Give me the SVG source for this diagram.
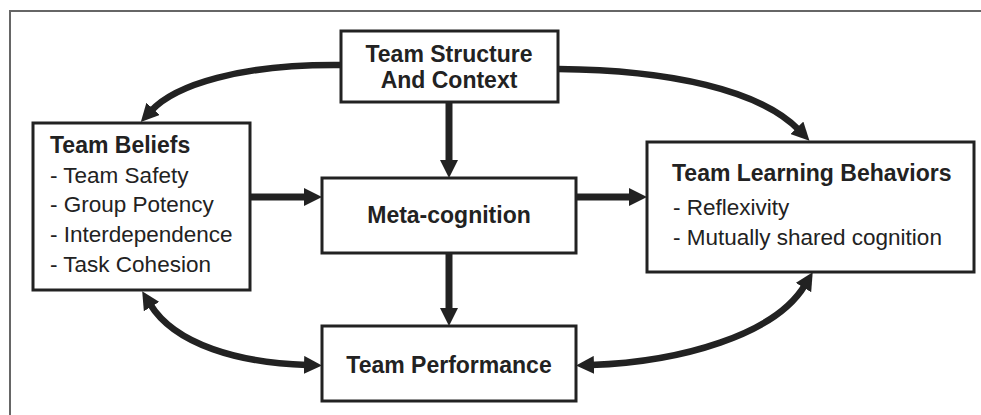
<svg xmlns="http://www.w3.org/2000/svg" width="981" height="415" viewBox="0 0 981 415">
<style>
.box{fill:#fff;stroke:#222;stroke-width:3}
.t{font-family:"Liberation Sans",Arial,sans-serif;fill:#222}
.b{font-weight:bold;font-size:23px}
.r{font-size:22.5px}
.c{text-anchor:middle}
.ln{fill:none;stroke:#222;stroke-width:7}
.cv{fill:none;stroke:#222;stroke-width:6.5}
.frame{fill:none;stroke:#666;stroke-width:2}
</style>
<defs>
<marker id="ah" viewBox="0 0 18 18" markerWidth="18" markerHeight="18" markerUnits="userSpaceOnUse" refX="3" refY="9" orient="auto-start-reverse">
<path d="M0,0 L18,9 L0,18 z" fill="#222"/>
</marker>
</defs>
<rect width="981" height="415" fill="#fff"/>
<path class="frame" d="M10,415 L10,11 L981,11"/>
<g id="connectors">
<path class="ln" d="M449,102 L449,163" marker-end="url(#ah)"/>
<path class="ln" d="M250,197 L307,197" marker-end="url(#ah)"/>
<path class="ln" d="M576,197 L632,197" marker-end="url(#ah)"/>
<path class="ln" d="M449,253 L449,311" marker-end="url(#ah)"/>
<path class="cv" d="M341,65 C240,64 175,85 151,111" marker-end="url(#ah)"/>
<path class="cv" d="M558,69 C670,70 760,90 799,130" marker-end="url(#ah)"/>
<path class="cv" d="M150,304 C175,345 240,363 307,365" marker-start="url(#ah)" marker-end="url(#ah)"/>
<path class="cv" d="M591,365 C680,362 775,335 805,285" marker-start="url(#ah)" marker-end="url(#ah)"/>
</g>
<g id="structure">
<rect class="box" x="341" y="31" width="217" height="71"/>
<text class="t b c" x="449" y="62">Team Structure</text>
<text class="t b c" x="449" y="88">And Context</text>
</g>
<g id="beliefs">
<rect class="box" x="33" y="123" width="217" height="167"/>
<text class="t b" x="50" y="153">Team Beliefs</text>
<text class="t r" x="50" y="183">- Team Safety</text>
<text class="t r" x="50" y="212">- Group Potency</text>
<text class="t r" x="50" y="242">- Interdependence</text>
<text class="t r" x="50" y="272">- Task Cohesion</text>
</g>
<g id="metacognition">
<rect class="box" x="322" y="178" width="254" height="75"/>
<text class="t b c" x="449" y="223">Meta-cognition</text>
</g>
<g id="learning">
<rect class="box" x="647" y="142" width="327" height="130"/>
<text class="t b" x="672" y="181">Team Learning Behaviors</text>
<text class="t r" x="673" y="215">- Reflexivity</text>
<text class="t r" x="673" y="245">- Mutually shared cognition</text>
</g>
<g id="performance">
<rect class="box" x="322" y="326" width="254" height="75"/>
<text class="t b c" x="449" y="373">Team Performance</text>
</g>
</svg>
